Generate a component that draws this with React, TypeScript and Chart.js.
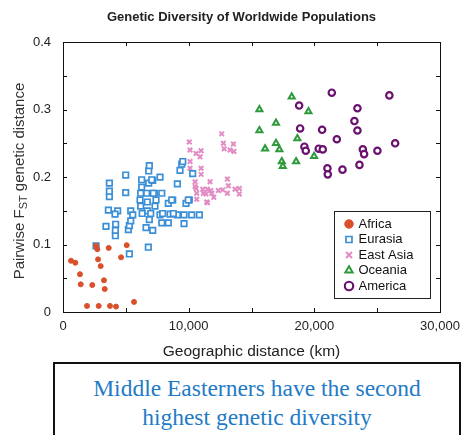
import React, { useEffect, useRef } from 'react';
import { Chart, registerables } from 'chart.js';

Chart.register(...registerables);

// ---------------- data ----------------
const africaKm = [640, 980, 1350, 1410, 2330, 1910, 2840, 3740, 4220, 5650, 2630, 2730, 3640, 2790, 3000, 3260, 3320, 4620, 5070];
const africaFst = [0.076, 0.073, 0.056, 0.041, 0.040, 0.009, 0.009, 0.009, 0.008, 0.015, 0.098, 0.093, 0.095, 0.078, 0.068, 0.047, 0.034, 0.081, 0.099];

const eurasiaKm = [2630, 5280, 6790, 3420, 4170, 4170, 4190, 5200, 5280, 5390, 5390, 3610, 4350, 4140, 3690, 3690, 3690, 4990, 4990, 6180, 6180, 6260, 6260, 6710, 6610, 6870, 7140, 6980, 6710, 7320, 7400, 6820, 6820, 6870, 7140, 7720, 7270, 7860, 7720, 7860, 8380, 8380, 8730, 8520, 9100, 9100, 9630, 9630, 9790, 10050, 10240, 10850, 9450, 9310, 10320, 5550, 7060, 9530, 6660, 7190, 6130, 8650, 9970, 7930, 8780, 6300];
const eurasiaFst = [0.098, 0.086, 0.096, 0.127, 0.113, 0.121, 0.130, 0.122, 0.128, 0.135, 0.150, 0.151, 0.150, 0.145, 0.171, 0.179, 0.191, 0.177, 0.203, 0.157, 0.176, 0.185, 0.196, 0.150, 0.125, 0.137, 0.121, 0.146, 0.163, 0.157, 0.166, 0.191, 0.209, 0.217, 0.195, 0.200, 0.176, 0.176, 0.144, 0.132, 0.132, 0.161, 0.166, 0.145, 0.144, 0.190, 0.131, 0.144, 0.161, 0.166, 0.144, 0.144, 0.219, 0.210, 0.205, 0.144, 0.196, 0.223, 0.176, 0.176, 0.166, 0.166, 0.166, 0.146, 0.146, 0.146];

const eastAsiaKm = [12630, 10050, 12760, 13560, 12820, 13290, 13610, 10110, 10590, 10990, 10910, 10110, 10110, 10990, 10990, 10510, 11700, 13080, 10590, 11120, 11490, 11760, 11380, 12360, 12710, 13160, 13080, 13690, 14030, 14030, 10640, 11490, 11840, 10510, 11170, 11440, 10640, 12000];
const eastAsiaFst = [0.264, 0.252, 0.250, 0.249, 0.242, 0.240, 0.238, 0.240, 0.235, 0.239, 0.230, 0.223, 0.213, 0.213, 0.204, 0.193, 0.193, 0.197, 0.183, 0.182, 0.182, 0.180, 0.175, 0.180, 0.181, 0.187, 0.176, 0.182, 0.183, 0.175, 0.167, 0.162, 0.176, 0.186, 0.176, 0.163, 0.176, 0.170];

const oceaniaKm = [18200, 15630, 19530, 16950, 15630, 18650, 16950, 16080, 17220, 19980, 17410, 17490, 18550];
const oceaniaFst = [0.319, 0.300, 0.297, 0.280, 0.269, 0.257, 0.250, 0.242, 0.241, 0.231, 0.223, 0.216, 0.223];

const americaKm = [21390, 25970, 18790, 23430, 23190, 18870, 23430, 20620, 21790, 26430, 19210, 19320, 20350, 20670, 23860, 23960, 25020, 23590, 21040, 22240, 21070];
const americaFst = [0.325, 0.321, 0.306, 0.302, 0.283, 0.272, 0.269, 0.270, 0.256, 0.250, 0.245, 0.239, 0.242, 0.241, 0.241, 0.234, 0.239, 0.218, 0.213, 0.211, 0.204];

const seriesNames = ['Africa', 'Eurasia', 'East Asia', 'Oceania', 'America'];

const chartTitle = 'Genetic Diversity of Worldwide Populations';
const xAxisTitle = 'Geographic distance (km)';
const yAxisTitleParts = ['Pairwise F', 'ST', ' genetic distance'];
const noteLines = ['Middle Easterners have the second', 'highest genetic diversity'];

const xMin = 0;
const xMax = 30000;
const xStep = 5000;
const xLabelEvery = 10000;
const yMin = 0;
const yMax = 0.4;
const yStep = 0.05;

// ---------------- helpers ----------------
const pts = (xs: number[], ys: number[]) => xs.map((x, i) => ({ x, y: ys[i] }));
const SANS = '"Liberation Sans", Arial, Helvetica, sans-serif';

const frameAndTicks = {
  id: 'frameAndTicks',
  afterDraw(chart: any) {
    const { ctx, chartArea: a, scales } = chart;
    const xs = scales.x;
    const ys = scales.y;
    ctx.save();
    ctx.strokeStyle = '#111';
    ctx.lineWidth = 1;
    ctx.strokeRect(Math.round(a.left) + 0.5, Math.round(a.top) + 0.5, Math.round(a.right - a.left), Math.round(a.bottom - a.top));
    const len = 4;
    ctx.beginPath();
    xs.ticks.forEach((t: any) => {
      const px = Math.round(xs.getPixelForValue(t.value)) + 0.5;
      ctx.moveTo(px, a.bottom);
      ctx.lineTo(px, a.bottom - len);
      ctx.moveTo(px, a.top);
      ctx.lineTo(px, a.top + len);
    });
    ys.ticks.forEach((t: any) => {
      const py = Math.round(ys.getPixelForValue(t.value)) + 0.5;
      ctx.moveTo(a.left, py);
      ctx.lineTo(a.left + len, py);
      ctx.moveTo(a.right, py);
      ctx.lineTo(a.right - len, py);
    });
    ctx.stroke();

    // y-axis title with subscript
    const cx = 19;
    const cy = (a.top + a.bottom) / 2 + 4;
    const mainFont = `15px ${SANS}`;
    const subFont = `11px ${SANS}`;
    ctx.font = mainFont;
    const w0 = ctx.measureText(yAxisTitleParts[0]).width;
    const w2 = ctx.measureText(yAxisTitleParts[2]).width;
    ctx.font = subFont;
    const w1 = ctx.measureText(yAxisTitleParts[1]).width;
    const total = w0 + w1 + w2;
    ctx.translate(cx, cy);
    ctx.rotate(-Math.PI / 2);
    ctx.fillStyle = '#333';
    ctx.textBaseline = 'alphabetic';
    ctx.textAlign = 'left';
    let x0 = -total / 2;
    ctx.font = mainFont;
    ctx.fillText(yAxisTitleParts[0], x0, 5);
    x0 += w0;
    ctx.font = subFont;
    ctx.fillText(yAxisTitleParts[1], x0, 8);
    x0 += w1;
    ctx.font = mainFont;
    ctx.fillText(yAxisTitleParts[2], x0, 5);
    ctx.restore();

    // legend frame
    const lg = chart.legend;
    if (lg && lg._frame) {
      const f = lg._frame;
      ctx.save();
      ctx.strokeStyle = '#222';
      ctx.lineWidth = 1;
      ctx.strokeRect(f.l + 0.5, f.t + 0.5, f.r - f.l, f.b - f.t);
      ctx.restore();
    }
  },
};

const legendPlacer = {
  id: 'legendPlacer',
  afterLayout(chart: any) {
    // let y tick labels extend to the canvas edge (no clipping)
    if (chart.scales.y) chart.scales.y.left = 0;
    const lg = chart.legend;
    if (!lg) return;
    const a = chart.chartArea;
    const r = Math.round(a.right - 10);
    const l = r - 96;
    const b = Math.round(a.bottom - 14);
    const t = b - 87;
    lg._frame = { l, r, t, b };
    lg.left = l + 9.5;
    lg.top = t + 4;
    lg.right = r;
    lg.bottom = b + 12;
    lg.width = lg.right - lg.left;
    lg.height = lg.bottom - lg.top;
  },
};

function ChartView() {
  const ref = useRef<HTMLCanvasElement | null>(null);
  useEffect(() => {
    if (!ref.current) return;
    const chart = new Chart(ref.current, {
      type: 'scatter',
      data: {
        datasets: [
          {
            label: seriesNames[0],
            data: pts(africaKm, africaFst),
            pointStyle: 'circle',
            backgroundColor: '#d9502b',
            borderColor: '#d9502b',
            borderWidth: 1,
            pointRadius: 2.5,
          },
          {
            label: seriesNames[1],
            data: pts(eurasiaKm, eurasiaFst),
            pointStyle: 'rect',
            backgroundColor: '#ffffff',
            borderColor: '#3a8fd6',
            borderWidth: 1.7,
            pointRadius: 3.9,
          },
          {
            label: seriesNames[2],
            data: pts(eastAsiaKm, eastAsiaFst),
            pointStyle: 'crossRot',
            backgroundColor: '#e38cc4',
            borderColor: '#e38cc4',
            borderWidth: 2,
            pointRadius: 3.2,
          },
          {
            label: seriesNames[3],
            data: pts(oceaniaKm, oceaniaFst),
            pointStyle: 'triangle',
            backgroundColor: '#ffffff',
            borderColor: '#2f9a3c',
            borderWidth: 2,
            pointRadius: 3.5,
          },
          {
            label: seriesNames[4],
            data: pts(americaKm, americaFst),
            pointStyle: 'circle',
            backgroundColor: '#ffffff',
            borderColor: '#6a1170',
            borderWidth: 2.2,
            pointRadius: 3.2,
          },
        ],
      },
      options: {
        responsive: false,
        animation: false,
        devicePixelRatio: 1,
        events: [],
        layout: { padding: { left: 43, right: 22, top: 0, bottom: 0 } },
        plugins: {
          tooltip: { enabled: false },
          title: {
            display: true,
            text: chartTitle,
            color: '#222',
            font: { family: SANS, size: 13, weight: 'bold' },
            padding: { top: 9.5, bottom: 17 },
          },
          legend: {
            display: true,
            position: 'chartArea' as any,
            align: 'start',
            labels: {
              usePointStyle: true,
              boxWidth: 6,
              boxHeight: 6,
              padding: 2.5,
              color: '#111',
              font: { family: SANS, size: 13 },
            },
          },
        },
        scales: {
          x: {
            type: 'linear',
            min: xMin,
            max: xMax,
            afterFit: (s: any) => {
              s.height = 50;
              s.paddingLeft = 0;
              s.paddingRight = 0;
            },
            border: { display: false },
            grid: { display: true, drawOnChartArea: false, drawTicks: false },
            ticks: {
              stepSize: xStep,
              autoSkip: false,
              maxRotation: 0,
              minRotation: 0,
              padding: 7,
              color: '#222',
              font: { family: SANS, size: 13 },
              callback: (v: any) => (Number(v) % xLabelEvery === 0 ? Number(v).toLocaleString('en-US') : ''),
            },
            title: {
              display: true,
              text: xAxisTitle,
              color: '#222',
              font: { family: SANS, size: 15.5 },
              padding: { top: 0, bottom: 1 },
            },
          },
          y: {
            type: 'linear',
            min: yMin,
            max: yMax,
            afterFit: (s: any) => {
              s.width = 20;
            },
            border: { display: false },
            grid: { display: true, drawOnChartArea: false, drawTicks: false },
            ticks: {
              stepSize: yStep,
              autoSkip: false,
              padding: 12,
              color: '#222',
              font: { family: SANS, size: 13 },
              callback: (v: any) => {
                const n = Math.round(Number(v) * 100);
                return n % 10 === 0 ? String(n / 100) : '';
              },
            },
          },
        },
      },
      plugins: [legendPlacer, frameAndTicks],
    });
    return () => chart.destroy();
  }, []);
  return <canvas ref={ref} width={462} height={362} style={{ display: 'block', width: 462, height: 362 }} />;
}

export default function App() {
  return (
    <div style={{ position: 'absolute', left: 0, top: 0, width: 462, height: 435, overflow: 'hidden', background: '#fff' }}>
      <ChartView />
      <div
        style={{
          position: 'absolute',
          left: 53,
          top: 362,
          width: 408,
          height: 90,
          boxSizing: 'border-box',
          border: '2px solid #111',
          paddingTop: 10,
          textAlign: 'center',
          color: '#1f7bc7',
          fontFamily: '"Liberation Serif", "Times New Roman", Times, serif',
          fontSize: 23.5,
          lineHeight: '29px',
        }}
      >
        {noteLines.map((line) => (
          <div key={line}>{line}</div>
        ))}
      </div>
    </div>
  );
}
